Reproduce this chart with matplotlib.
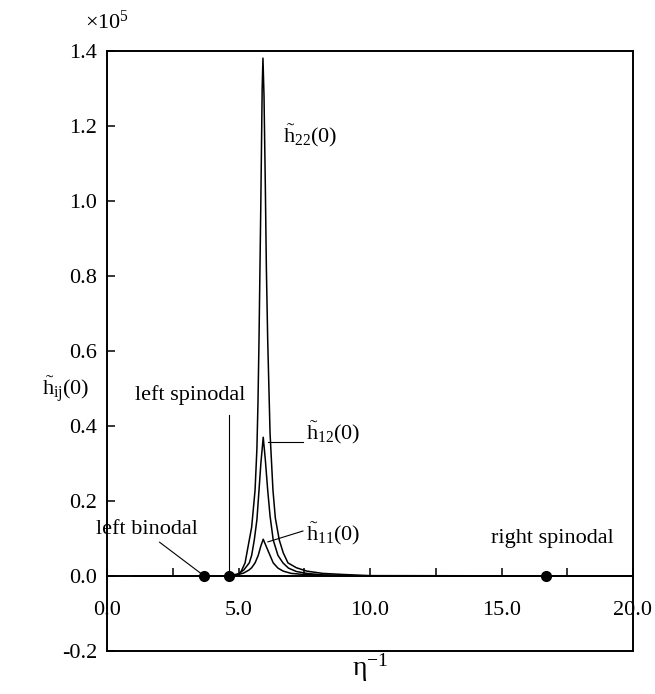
import matplotlib
matplotlib.use('Agg')
import matplotlib.pyplot as plt
from matplotlib.ticker import MultipleLocator, FormatStrFormatter

plt.rcParams['font.family'] = ['Liberation Serif', 'DejaVu Serif']
plt.rcParams['mathtext.fontset'] = 'custom'
plt.rcParams['mathtext.rm'] = 'Liberation Serif'
plt.rcParams['mathtext.it'] = 'Liberation Serif'
plt.rcParams['axes.unicode_minus'] = False

# curves (y in units of 1e5)
eta22 = [1.0, 4.6, 5.0, 5.1, 5.25, 5.41, 5.5, 5.63, 5.7, 5.74, 5.78, 5.85, 5.9, 5.93,
         5.97, 6.02, 6.06, 6.11, 6.2, 6.31, 6.4, 6.55, 6.7, 6.88, 7.2, 7.6, 8.2, 9.0, 10.0, 20.0]
h22 = [0.0, 0.0, 0.004, 0.012, 0.035, 0.096, 0.13, 0.229, 0.34, 0.46, 0.63, 1.0, 1.3, 1.381,
       1.28, 1.04, 0.82, 0.63, 0.38, 0.229, 0.155, 0.096, 0.062, 0.035, 0.022, 0.013, 0.007, 0.004, 0.001, 0.0]

eta12 = [1.0, 4.6, 5.0, 5.2, 5.41, 5.5, 5.6, 5.7, 5.78, 5.85, 5.94,
         6.02, 6.11, 6.2, 6.32, 6.5, 6.69, 6.9, 7.2, 7.6, 8.2, 9.0, 10.0, 20.0]
h12 = [0.0, 0.0, 0.006, 0.016, 0.035, 0.055, 0.096, 0.15, 0.229, 0.3, 0.37,
       0.31, 0.229, 0.16, 0.096, 0.055, 0.035, 0.021, 0.012, 0.007, 0.003, 0.001, 0.0, 0.0]

eta11 = [1.0, 4.6, 5.0, 5.2, 5.4, 5.5, 5.63, 5.75, 5.85, 5.94,
         6.03, 6.15, 6.32, 6.5, 6.7, 7.0, 7.5, 8.2, 9.0, 10.0, 20.0]
h11 = [0.0, 0.0, 0.004, 0.008, 0.016, 0.022, 0.035, 0.055, 0.08, 0.098,
       0.083, 0.063, 0.035, 0.021, 0.013, 0.007, 0.004, 0.002, 0.001, 0.0, 0.0]

# binodal / spinodal points on the axis
pts_x = [3.7, 4.62, 16.68]
pts_y = [0.0, 0.0, 0.0]

fig = plt.figure(figsize=(6.55, 6.94), dpi=100, facecolor='white')
ax = fig.add_axes([107/655, 43/694, 526/655, 600/694])

ax.plot(eta22, h22, color='k', lw=1.1)
ax.plot(eta12, h12, color='k', lw=1.1)
ax.plot(eta11, h11, color='k', lw=1.1)
ax.plot(pts_x, pts_y, 'o', color='k', ms=7, clip_on=False, zorder=5)

ax.set_xlim(0, 20)
ax.set_ylim(-0.2, 1.4)

# x axis sits on y = 0, frame closed at the bottom by hand
ax.spines['bottom'].set_position(('data', 0))
ax.plot([0, 20], [-0.2, -0.2], color='k', lw=1.4, clip_on=False)
for s in ax.spines.values():
    s.set_linewidth(1.4)

ax.xaxis.set_major_locator(MultipleLocator(5))
ax.xaxis.set_minor_locator(MultipleLocator(2.5))
ax.yaxis.set_major_locator(MultipleLocator(0.2))
ax.xaxis.set_major_formatter(FormatStrFormatter('%.1f'))
ax.yaxis.set_major_formatter(FormatStrFormatter('%.1f'))
ax.tick_params(axis='x', which='both', direction='in', length=6, width=1.1, labelsize=16, pad=18)
ax.tick_params(axis='y', which='both', direction='in', length=6, width=1.1, labelsize=16, pad=7)

fs = 16
ax.text(-0.84, 1.46, r'$\mathrm{\times 10^{5}}$', fontsize=fs, ha='left', va='baseline', clip_on=False)
ax.text(-2.47, 0.48, r'$\mathrm{\tilde{h}_{ij}(0)}$', fontsize=fs, ha='left', va='baseline', clip_on=False)
ax.text(10.0, -0.245, r'$\mathrm{\eta^{-1}}$', fontsize=fs + 4, ha='center', va='center', clip_on=False)

# peak labels
ax.text(7.72, 1.157, r'$\mathrm{\tilde{h}_{22}(0)}$', fontsize=fs, ha='center', va='baseline')
ax.text(8.6, 0.365, r'$\mathrm{\tilde{h}_{12}(0)}$', fontsize=fs, ha='center', va='baseline')
ax.text(8.6, 0.094, r'$\mathrm{\tilde{h}_{11}(0)}$', fontsize=fs, ha='center', va='baseline')
ax.plot([7.45, 6.12], [0.357, 0.357], color='k', lw=0.8)
ax.plot([7.45, 6.12], [0.12, 0.091], color='k', lw=0.8)

# binodal / spinodal labels
ax.text(1.52, 0.111, 'left binodal', fontsize=fs, ha='center', va='baseline', clip_on=False)
ax.plot([2.0, 3.7], [0.09, 0.0], color='k', lw=0.8)
ax.text(3.17, 0.47, 'left spinodal', fontsize=fs, ha='center', va='baseline')
ax.plot([4.62, 4.62], [0.43, 0.0], color='k', lw=0.8)
ax.text(16.95, 0.089, 'right spinodal', fontsize=fs, ha='center', va='baseline')

fig.savefig('out.png', dpi=100, facecolor='white')
